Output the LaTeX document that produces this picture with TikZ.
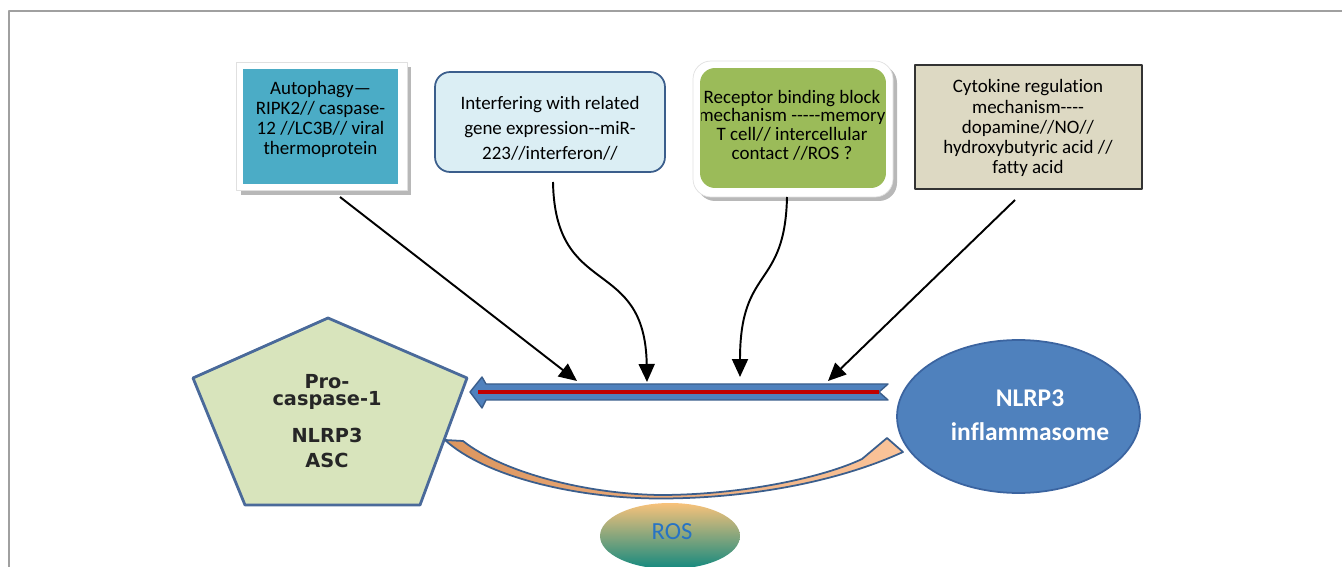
\documentclass[tikz,border=0pt]{standalone}
\usepackage{fontspec}
\setmainfont{Carlito}[Ligatures={TeXOff,CommonOff}]
\newfontfamily\dejavu{DejaVu Sans}
\usetikzlibrary{arrows.meta,shapes.geometric}
\definecolor{tealbox}{HTML}{4BACC6}
\definecolor{lightbluebox}{HTML}{DBEEF4}
\definecolor{boxborder}{HTML}{3B5E8C}
\definecolor{greenbox}{HTML}{9BBB59}
\definecolor{beigebox}{HTML}{DDD9C3}
\definecolor{pentfill}{HTML}{D8E4BC}
\definecolor{pentborder}{HTML}{4A6A9A}
\definecolor{ellfill}{HTML}{4F81BD}
\definecolor{ellborder}{HTML}{3B64A0}
\definecolor{barred}{HTML}{C00000}
\definecolor{orangeA}{HTML}{DC955E}
\definecolor{orangeB}{HTML}{FBC49A}
\definecolor{rosTop}{HTML}{F8C27A}
\definecolor{rosMid}{HTML}{CDB57A}
\definecolor{rosBot}{HTML}{13897F}
\definecolor{rosText}{HTML}{2773C4}
\definecolor{framegray}{HTML}{A0A0A0}
\tikzset{
  boxtext/.style={align=center, inner sep=0pt, font=\fontsize{10.8}{11.4}\selectfont},
  boxshape/.style={rectangle, inner sep=0pt},
  blackarrow/.style={-{Triangle[length=0.36cm,width=0.32cm]}, line width=1.1pt, black},
}
\begin{document}
\begin{tikzpicture}[x=0.02cm,y=-0.02cm,line join=round]
\useasboundingbox (0,0) rectangle (1342,567);
% page frame
\draw[framegray, line width=0.8pt] (9,567) -- (9,11) -- (1342,11);

% ---- Box 1 ----
\fill[black!28] (241,67) rectangle (411,195);
\draw[black!12, fill=white] (236,62) rectangle (407,190);
\node[boxshape, fill=tealbox, minimum width=3.1cm, minimum height=2.3cm] (b1) at (320.5,126.5) {};
\node[boxtext] (b1t) at (320.5,119) {Autophagy—\\RIPK2// caspase-\\12 //LC3B// viral\\thermoprotein};

% ---- Box 2 ----
\node[boxshape, fill=lightbluebox, draw=boxborder, line width=1pt, rounded corners=0.3cm,
      minimum width=4.6cm, minimum height=2cm] (b2) at (550,122) {};
\node[boxtext, font=\fontsize{10.8}{14.2}\selectfont] (b2t) at (550,128) {Interfering with related\\gene expression--miR-\\223//interferon//};

% ---- Box 3 ----
\fill[black!28, rounded corners=0.36cm] (697,65) rectangle (897,201);
\draw[black!12, fill=white, rounded corners=0.36cm] (693,61) rectangle (893,197);
\node[boxshape, fill=greenbox, rounded corners=0.3cm,
      minimum width=3.72cm, minimum height=2.4cm] (b3) at (793,128) {};
\begin{scope}
  \clip[rounded corners=0.3cm] (701,69) rectangle (884,187);
  \node[boxtext, font=\fontsize{10.8}{10.6}\selectfont] (b3t) at (792,125) {Receptor binding block\\mechanism -----memory\\T cell// intercellular\\contact //ROS ?};
\end{scope}

% ---- Box 4 ----
\node[boxshape, fill=beigebox, draw=black!80, line width=1pt,
      minimum width=4.54cm, minimum height=2.48cm] (b4) at (1028.5,127) {};
\node[boxtext] (b4t) at (1028,128) {Cytokine regulation\\mechanism----\\dopamine//NO//\\hydroxybutyric acid //\\fatty acid};

% ---- Pentagon ----
\draw[fill=pentfill, draw=pentborder, line width=1.6pt]
  (328,318) -- (467,378) -- (420,505) -- (245,505) -- (193,378) -- cycle;
\node[align=center, inner sep=0pt, font=\dejavu\bfseries\fontsize{11}{9.8}\selectfont, text=black!85] (pro) at (327,392) {Pro-\\caspase-1};
\node[align=center, inner sep=0pt, font=\dejavu\bfseries\fontsize{11}{14.2}\selectfont, text=black!85] (nlrpA) at (327,448) {NLRP3\\ASC};

% ---- Ellipse ----
\node[ellipse, fill=ellfill, draw=ellborder, line width=1pt, inner sep=0pt,
      minimum width=4.86cm, minimum height=3.06cm] (inf) at (1018.5,416.5) {};
\node[align=center, inner sep=0pt, text=white, font=\bfseries\fontsize{14.5}{19.3}\selectfont] (inft) at (1030,415) {NLRP3\\inflammasome};

% ---- Double bar arrow ----
\draw[fill=ellfill, draw=boxborder, line width=0.8pt]
  (470,392) -- (482,377) -- (486,384) -- (888,384) -- (879,392) -- (888,400)
  -- (486,400) -- (482,408) -- cycle;
\coordinate (redL) at (478,392);
\coordinate (redR) at (879,392);
\draw[barred, line width=2.6pt] (redL) -- (redR);

% ---- Black arrows ----
\coordinate (s1) at (340,197);
\coordinate (e1) at (577,381);
\coordinate (s2) at (553,182);
\coordinate (e2) at (647,382);
\coordinate (s3) at (787,197);
\coordinate (e3) at (740,377);
\coordinate (s4) at (1015,200);
\coordinate (e4) at (828,381);
\draw[blackarrow] (s1) -- (e1);
\draw[blackarrow] (s2) .. controls (555,300) and (645,255) .. (e2);
\draw[blackarrow] (s3) .. controls (785,290) and (740,265) .. (e3);
\draw[blackarrow] (s4) -- (e4);

% ---- Curved orange arrow ----
\shadedraw[left color=orangeA, right color=orangeB, draw=boxborder, line width=1pt]
  (445,440) -- (463,441)
  .. controls (502,472) and (585,494) .. (660,495)
  .. controls (740,495) and (822,478) .. (862,459)
  -- (887,438) -- (903,452)
  .. controls (835,483) and (745,498.5) .. (660,498.5)
  .. controls (575,498.5) and (484,476) .. (445,440) -- cycle;

% ---- ROS ----
\node[ellipse, inner sep=0pt, minimum width=2.8cm, minimum height=1.32cm,
      top color=rosTop, middle color=rosMid, bottom color=rosBot] (ros) at (670,536) {};
\node[inner sep=0pt, text=rosText, font=\fontsize{14}{15}\selectfont] (rost) at (672,532) {ROS};
\end{tikzpicture}
\end{document}
